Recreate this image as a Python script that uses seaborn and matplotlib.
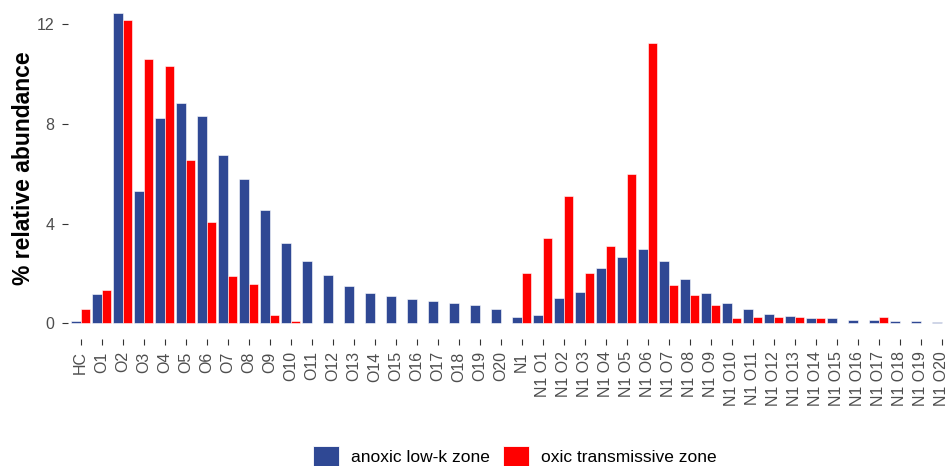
import matplotlib
matplotlib.use("Agg")
import matplotlib.pyplot as plt
from matplotlib.patches import Patch
import pandas as pd
import seaborn as sns

# Sample groups along the x axis
categories = [
    "HC", "O1", "O2", "O3", "O4", "O5", "O6", "O7", "O8", "O9", "O10",
    "O11", "O12", "O13", "O14", "O15", "O16", "O17", "O18", "O19", "O20",
    "N1", "N1 O1", "N1 O2", "N1 O3", "N1 O4", "N1 O5", "N1 O6", "N1 O7",
    "N1 O8", "N1 O9", "N1 O10", "N1 O11", "N1 O12", "N1 O13", "N1 O14",
    "N1 O15", "N1 O16", "N1 O17", "N1 O18", "N1 O19", "N1 O20",
]

# % relative abundance per zone
anoxic = [
    0.09, 1.16, 12.45, 5.30, 8.24, 8.82, 8.30, 6.75, 5.77, 4.53, 3.22,
    2.51, 1.92, 1.50, 1.20, 1.11, 0.96, 0.91, 0.81, 0.72, 0.57,
    0.24, 0.33, 1.01, 1.25, 2.23, 2.66, 2.99, 2.51,
    1.79, 1.20, 0.81, 0.57, 0.38, 0.29, 0.20,
    0.20, 0.15, 0.15, 0.10, 0.10, 0.05,
]
oxic = [
    0.57, 1.35, 12.16, 10.61, 10.32, 6.55, 4.05, 1.88, 1.59, 0.35, 0.09,
    0.0, 0.0, 0.0, 0.0, 0.0, 0.0, 0.0, 0.0, 0.0, 0.0,
    2.03, 3.42, 5.10, 2.03, 3.09, 5.99, 11.24, 1.55,
    1.12, 0.73, 0.20, 0.25, 0.25, 0.25, 0.20,
    0.0, 0.0, 0.25, 0.0, 0.0, 0.0,
]

zones = ["anoxic low-k zone", "oxic transmissive zone"]
colors = ["#2F4894", "#FF0000"]

df = pd.DataFrame({
    "group": categories * 2,
    "abundance": anoxic + oxic,
    "zone": [zones[0]] * len(categories) + [zones[1]] * len(categories),
})

sns.set_style("white")
plt.rcParams["font.family"] = ["Liberation Sans", "DejaVu Sans"]

fig = plt.figure(figsize=(9.46, 4.66), dpi=100)
ax = fig.add_axes([0.072, 0.273, 0.9368, 0.7328])

sns.barplot(
    data=df, x="group", y="abundance", hue="zone",
    order=categories, hue_order=zones, palette=colors, saturation=1,
    width=0.9, gap=0, errorbar=None, dodge=True,
    edgecolor="white", linewidth=0.4, legend=False, ax=ax,
)

ax.set_xlim(-0.6, len(categories) - 0.4)
ax.set_ylim(-0.62, 13.07)
ax.set_yticks([0, 4, 8, 12])
ax.set_yticklabels(["0", "4", "8", "12"])
ax.set_xticks(range(len(categories)))
ax.set_xticklabels(categories, rotation=90, ha="center", va="top")

for side in ["top", "right", "bottom", "left"]:
    ax.spines[side].set_visible(False)

ax.tick_params(axis="both", which="major", length=4.5, width=0.8,
               color="#333333", labelcolor="#4D4D4D", labelsize=11.5)
ax.tick_params(axis="x", pad=4.5, bottom=True)
ax.tick_params(axis="y", pad=5.5, left=True)

ax.set_xlabel("")
ax.set_ylabel("% relative abundance", fontsize=16.5, fontweight="bold",
              color="black", labelpad=1)
ax.grid(False)

handles = [Patch(facecolor=c, edgecolor="white", linewidth=0.6) for c in colors]
fig.legend(handles, zones, loc="center", bbox_to_anchor=(0.544, 0.021),
           ncol=2, frameon=False, fontsize=12.5, handlelength=1.5,
           handleheight=1.5, handletextpad=0.7, columnspacing=0.75,
           labelcolor="black")

fig.savefig("out.png", dpi=100, facecolor="white")
